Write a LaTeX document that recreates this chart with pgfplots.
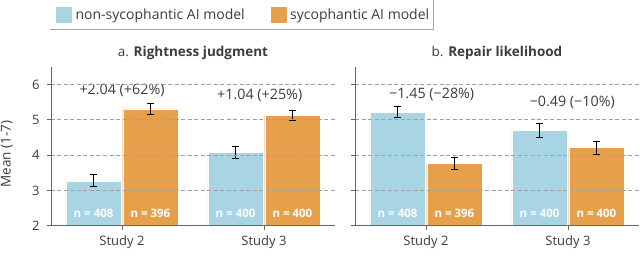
\documentclass[border=0pt]{standalone}
\usepackage{fontspec}
\setmainfont{Open Sans}
\usepackage{pgfplots}
\pgfplotsset{compat=1.18}
\definecolor{cblue}{RGB}{168,212,228}
\definecolor{corange}{RGB}{230,160,75}
\definecolor{axgray}{RGB}{100,100,100}
\definecolor{gridgray}{RGB}{160,160,160}
\definecolor{txtgray}{RGB}{60,60,60}
\pgfplotsset{
  panel/.style={
    scale only axis, width=284pt, height=159pt,
    xmin=-0.5, xmax=1.5, ymin=2, ymax=6.5,
    axis x line*=bottom, axis y line*=left,
    axis line style={axgray, line width=0.9pt},
    xtick={0,1}, xticklabels={Study 2, Study 3},
    ytick={2,3,4,5,6},
    ymajorgrids, grid style={gridgray, dash pattern=on 4pt off 2.5pt, line width=0.6pt},
    major tick length=4pt,
    tick style={axgray, line width=0.9pt},
    tick align=outside,
    ticklabel style={font=\fontsize{13}{15}\selectfont, text=txtgray},
    yticklabel style={xshift=-4pt},
    xticklabel style={yshift=-2pt},
    /pgf/number format/assume math mode=true,
    axis on top,
    title style={font=\fontsize{13.5}{16}\selectfont, text=txtgray, at={(0.5,1)}, anchor=base, yshift=4pt},
    clip=true,
  },
  barplot/.style={ybar, bar width=0.39, bar shift=0pt, fill=#1, draw=white, line width=0.4pt,
    error bars/.cd, y dir=both, y explicit,
    error bar style={black, line width=0.9pt},
    error mark options={black, line width=0.9pt, mark size=3.5pt, rotate=90}},
}
\tikzset{
  nlab/.style={text=white, font=\fontsize{11.5}{13}\selectfont\bfseries},
  ann/.style={text=txtgray, font=\fontsize{14.3}{16}\selectfont},
}
\begin{document}
\begin{tikzpicture}[x=1pt,y=1pt]
\useasboundingbox (0,0) rectangle (640,277);
\begin{axis}[panel, at={(51pt,51.3pt)}, anchor=south west,
  title={a. \textbf{Rightness judgment}},
  ylabel={Mean (1-7)},
  every axis y label/.style={at={(rel axis cs:-0.155,0.451)}, rotate=90, anchor=center, text=txtgray, font=\fontsize{13.5}{15}\selectfont},
  legend columns=2,
  legend image code/.code={\fill[#1] (0pt,-8.5pt) rectangle (17pt,8.5pt);},
  legend style={at={(0.014,1.325)}, anchor=west, draw=none, fill=none, inner sep=0pt,
    font=\fontsize{14}{16}\selectfont, text=txtgray,
    /tikz/every even column/.append style={column sep=22pt},
    nodes={inner xsep=3pt}},
]
\addplot[barplot=cblue] coordinates {(-0.2,3.27) +- (0,0.17) (0.8,4.08) +- (0,0.17)};
\addlegendentry{non-sycophantic AI model}
\addplot[barplot=corange] coordinates {(0.2,5.31) +- (0,0.15) (1.2,5.12) +- (0,0.15)};
\addlegendentry{sycophantic AI model}
\node[ann] at (axis cs:0,5.82) {+2.04 (+62\%)};
\node[ann] at (axis cs:0.97,5.68) {+1.04 (+25\%)};
\node[nlab] at (axis cs:-0.2,2.35) {n = 408};
\node[nlab] at (axis cs:0.2,2.35) {n = 396};
\node[nlab] at (axis cs:0.8,2.35) {n = 400};
\node[nlab] at (axis cs:1.2,2.35) {n = 400};
\end{axis}
\begin{axis}[panel, at={(355pt,51.3pt)}, anchor=south west,
  title={b. \textbf{Repair likelihood}},
  yticklabels={},
]
\addplot[barplot=cblue] coordinates {(-0.2,5.21) +- (0,0.16) (0.8,4.70) +- (0,0.19)};
\addplot[barplot=corange] coordinates {(0.2,3.76) +- (0,0.16) (1.2,4.21) +- (0,0.18)};
\node[ann] at (axis cs:0.04,5.71) {−1.45 (−28\%)};
\node[ann] at (axis cs:1.03,5.49) {−0.49 (−10\%)};
\node[nlab] at (axis cs:-0.2,2.35) {n = 408};
\node[nlab] at (axis cs:0.2,2.35) {n = 396};
\node[nlab] at (axis cs:0.8,2.35) {n = 400};
\node[nlab] at (axis cs:1.2,2.35) {n = 400};
\end{axis}
\draw[gray!70, line width=0.6pt] (50,247.7) -- (433,247.7) -- (433,277);
\end{tikzpicture}
\end{document}
